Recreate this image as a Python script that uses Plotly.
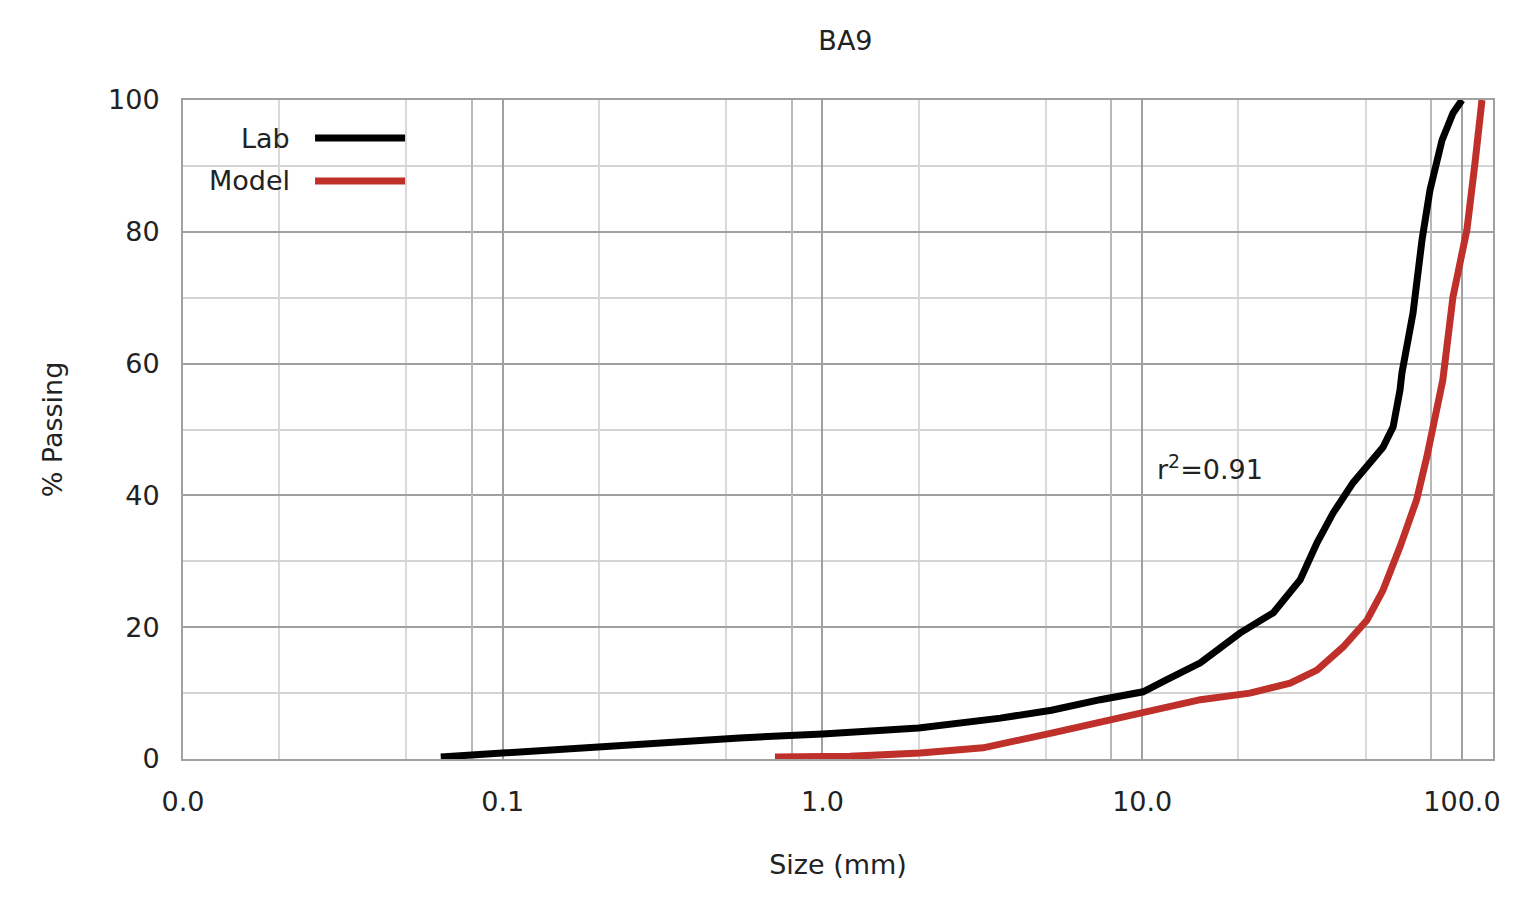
import plotly.graph_objects as go

# ---- data ----
lab_size = [0.064, 0.1, 0.2, 0.33, 0.55, 1.0, 2.0, 3.6, 5.2, 7.39, 8.1, 10.06, 11.9, 15.2, 20.2,
            25.7, 31.2, 35.2, 39.5, 45.6, 56.6, 60.9, 64.0, 64.9, 70.3, 75.0, 79.4, 86.6, 93.7, 100.0]
lab_pass = [0.3, 0.9, 1.8, 2.6, 3.2, 3.8, 4.7, 6.2, 7.4, 9.0, 9.3, 10.2, 12.0, 14.6, 19.1,
            22.2, 27.2, 32.8, 37.3, 41.9, 47.3, 50.4, 56.0, 58.6, 67.7, 78.8, 86.3, 93.9, 98.0, 100.0]

model_size = [0.71, 1.22, 2.02, 3.18, 5.16, 7.39, 10.06, 13.4, 15.2, 21.7, 29.0, 35.2, 42.5, 50.5,
              56.6, 64.0, 72.1, 77.6, 83.4, 87.1, 93.7, 103.6, 109.8, 115.5]
model_pass = [0.3, 0.4, 0.9, 1.7, 3.9, 5.6, 7.0, 8.5, 9.0, 10.0, 11.5, 13.5, 17.0, 21.1,
              25.6, 32.2, 39.3, 45.8, 52.5, 57.5, 70.1, 80.3, 90.4, 100.0]

x_tickvals = [0.01, 0.1, 1, 10, 100]
x_ticktext = ["0.0", "0.1", "1.0", "10.0", "100.0"]
x_minor = [0.02, 0.05, 0.2, 0.5, 2, 5, 20, 50]
x_mid = [0.08, 0.8, 8, 80]
y_tickvals = [0, 20, 40, 60, 80, 100]

series_names = ["Lab", "Model"]
series_colors = ["#000000", "#c0302a"]

FONT = "DejaVu Sans, Verdana, sans-serif"
TXT = "#222222"
FS = 27

fig = go.Figure()
fig.add_trace(go.Scatter(x=lab_size, y=lab_pass, mode="lines", name=series_names[0],
                         line=dict(color=series_colors[0], width=7), showlegend=False))
fig.add_trace(go.Scatter(x=model_size, y=model_pass, mode="lines", name=series_names[1],
                         line=dict(color=series_colors[1], width=7), showlegend=False))
# helper trace so the overlay axis (extra grid lines) is drawn
fig.add_trace(go.Scatter(x=[x_mid[0]], y=[0], xaxis="x2", mode="markers",
                         marker=dict(opacity=0), showlegend=False, hoverinfo="skip"))

xr = [-2, 2.097]
fig.update_layout(
    width=1513, height=898,
    paper_bgcolor="white", plot_bgcolor="white",
    margin=dict(l=175, r=28, t=92, b=147),
    font=dict(family=FONT, size=FS, color=TXT),
    title=dict(text="BA9", x=0.5535, xanchor="center", y=0.964, yanchor="middle",
               font=dict(size=FS, color=TXT, family=FONT)),
    xaxis=dict(type="log", range=xr, tickvals=x_tickvals, ticktext=x_ticktext,
               showgrid=True, gridcolor="#a0a0a0", gridwidth=2,
               minor=dict(tickvals=x_minor, showgrid=True, gridcolor="#d9d9d9", gridwidth=1.5),
               showline=True, linecolor="#a0a0a0", linewidth=2, mirror=True,
               ticks="", ticklabelstandoff=18, zeroline=False,
               title=dict(text="Size (mm)", standoff=39, font=dict(size=FS, family=FONT, color=TXT))),
    xaxis2=dict(type="log", range=xr, overlaying="x", matches="x", tickvals=x_mid,
                showticklabels=False, showgrid=True, gridcolor="#b8b8b8", gridwidth=2,
                ticks="", showline=False, zeroline=False),
    yaxis=dict(range=[0, 100], tickvals=y_tickvals, showgrid=True, gridcolor="#a0a0a0", gridwidth=2,
               minor=dict(dtick=10, showgrid=True, gridcolor="#d4d4d4", gridwidth=1.5),
               showline=True, linecolor="#a0a0a0", linewidth=2, mirror=True,
               ticks="", ticklabelstandoff=16, zeroline=False,
               title=dict(text="% Passing", standoff=38, font=dict(size=FS, family=FONT, color=TXT))),
)

# legend drawn text-left / key-right, as in the reference
fig.add_shape(type="rect", xref="paper", yref="paper", x0=0.012, x1=0.182, y0=0.85, y1=0.978,
              fillcolor="white", line=dict(width=0), layer="below")
leg_y = [0.9423, 0.8771]
for name, col, yy in zip(series_names, series_colors, leg_y):
    fig.add_annotation(xref="paper", yref="paper", x=0.0832, y=yy, text=name, showarrow=False,
                       xanchor="right", yanchor="middle", font=dict(size=FS, family=FONT, color=TXT))
    fig.add_shape(type="line", xref="paper", yref="paper", x0=0.1008, x1=0.1695, y0=yy, y1=yy,
                  line=dict(color=col, width=7))

fig.add_annotation(xref="paper", yref="paper", x=0.742, y=0.4416, text="r<sup>2</sup>=0.91",
                   showarrow=False, xanchor="left", yanchor="middle",
                   font=dict(size=FS, family=FONT, color=TXT))

fig.write_html("out.html")
